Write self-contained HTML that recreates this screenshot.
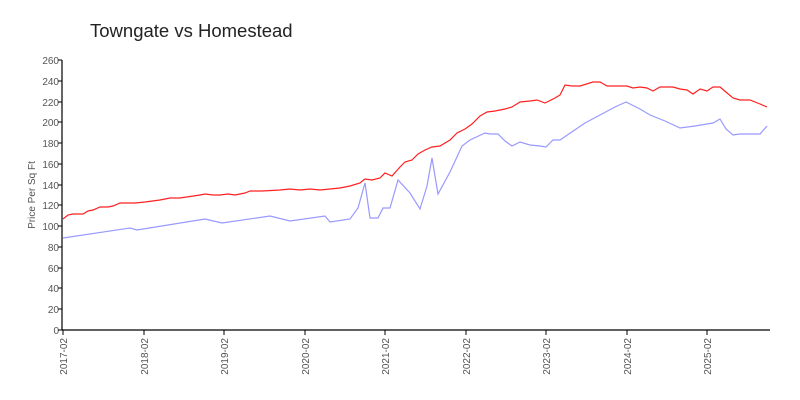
<!DOCTYPE html>
<html><head><meta charset="utf-8"><style>body{margin:0;background:#fff}svg{display:block}</style></head><body>
<svg width="800" height="400" xmlns="http://www.w3.org/2000/svg" font-family="Liberation Sans, sans-serif">
<text x="90" y="37" font-size="18.5" fill="#222">Towngate vs Homestead</text>
<text transform="translate(35,195) rotate(-90)" text-anchor="middle" font-size="10" fill="#555">Price Per Sq Ft</text>
<g stroke="#000" stroke-width="1.2">
<line x1="62" y1="60" x2="62" y2="330"/><line x1="62" y1="330" x2="770" y2="330"/>
</g>
<g font-size="10" fill="#555" text-anchor="end">
<text x="59" y="334">0</text><text x="59" y="313">20</text><text x="59" y="292">40</text><text x="59" y="272">60</text><text x="59" y="251">80</text><text x="59" y="230">100</text><text x="59" y="209">120</text><text x="59" y="189">140</text><text x="59" y="168">160</text><text x="59" y="147">180</text><text x="59" y="126">200</text><text x="59" y="106">220</text><text x="59" y="85">240</text><text x="59" y="64">260</text>
</g>
<g stroke="#000" stroke-width="1">
<line x1="58" y1="330" x2="62" y2="330"/><line x1="58" y1="309" x2="62" y2="309"/><line x1="58" y1="288" x2="62" y2="288"/><line x1="58" y1="268" x2="62" y2="268"/><line x1="58" y1="247" x2="62" y2="247"/><line x1="58" y1="226" x2="62" y2="226"/><line x1="58" y1="205" x2="62" y2="205"/><line x1="58" y1="185" x2="62" y2="185"/><line x1="58" y1="164" x2="62" y2="164"/><line x1="58" y1="143" x2="62" y2="143"/><line x1="58" y1="122" x2="62" y2="122"/><line x1="58" y1="102" x2="62" y2="102"/><line x1="58" y1="81" x2="62" y2="81"/><line x1="58" y1="60" x2="62" y2="60"/>
<line x1="63" y1="330" x2="63" y2="335"/><line x1="144" y1="330" x2="144" y2="335"/><line x1="224" y1="330" x2="224" y2="335"/><line x1="305" y1="330" x2="305" y2="335"/><line x1="385" y1="330" x2="385" y2="335"/><line x1="466" y1="330" x2="466" y2="335"/><line x1="546" y1="330" x2="546" y2="335"/><line x1="627" y1="330" x2="627" y2="335"/><line x1="707" y1="330" x2="707" y2="335"/>
</g>
<g font-size="10" fill="#555" text-anchor="end">
<text transform="translate(67,338) rotate(-90)">2017-02</text><text transform="translate(148,338) rotate(-90)">2018-02</text><text transform="translate(228,338) rotate(-90)">2019-02</text><text transform="translate(309,338) rotate(-90)">2020-02</text><text transform="translate(389,338) rotate(-90)">2021-02</text><text transform="translate(470,338) rotate(-90)">2022-02</text><text transform="translate(550,338) rotate(-90)">2023-02</text><text transform="translate(631,338) rotate(-90)">2024-02</text><text transform="translate(711,338) rotate(-90)">2025-02</text>
</g>
<polyline fill="none" stroke="#9999ff" stroke-width="1.2" points="63,238 130,228 137,230 205,219 222,223 270,216 290,221 325,216 330,222 350,219 358,208 365,183 370,218 378,218 383,208 390,208 398,180 410,193 420,209 427,186 432,158 438,194 450,172 462,146 470,140 485,133 490,134 498,134 505,141 512,146 520,142 530,145 540,146 546,147 553,140 560,140 585,123 600,115 615,107 626,102 640,109 650,115 665,121 680,128 695,126 713,123 720,119 726,129 733,135 740,134 760,134 767,126"/>
<polyline fill="none" stroke="#ff2020" stroke-width="1.2" points="63,219 68,215 73,214 83,214 88,211 93,210 100,207 108,207 113,206 120,203 128,203 135,203 145,202 160,200 170,198 180,198 200,195 205,194 213,195 220,195 228,194 235,195 245,193 250,191 262,191 280,190 290,189 300,190 310,189 320,190 340,188 350,186 360,183 365,179 372,180 380,178 385,173 392,176 400,167 405,162 412,160 418,154 425,150 432,147 440,146 450,140 457,133 465,129 472,124 480,116 487,112 495,111 505,109 512,107 520,102 530,101 537,100 545,103 555,98 560,95 565,85 572,86 580,86 593,82 600,82 607,86 627,86 633,88 640,87 647,88 653,91 660,87 673,87 680,89 687,90 693,94 700,89 707,91 713,87 720,87 733,98 740,100 750,100 760,104 767,107"/>
</svg>
</body></html>
